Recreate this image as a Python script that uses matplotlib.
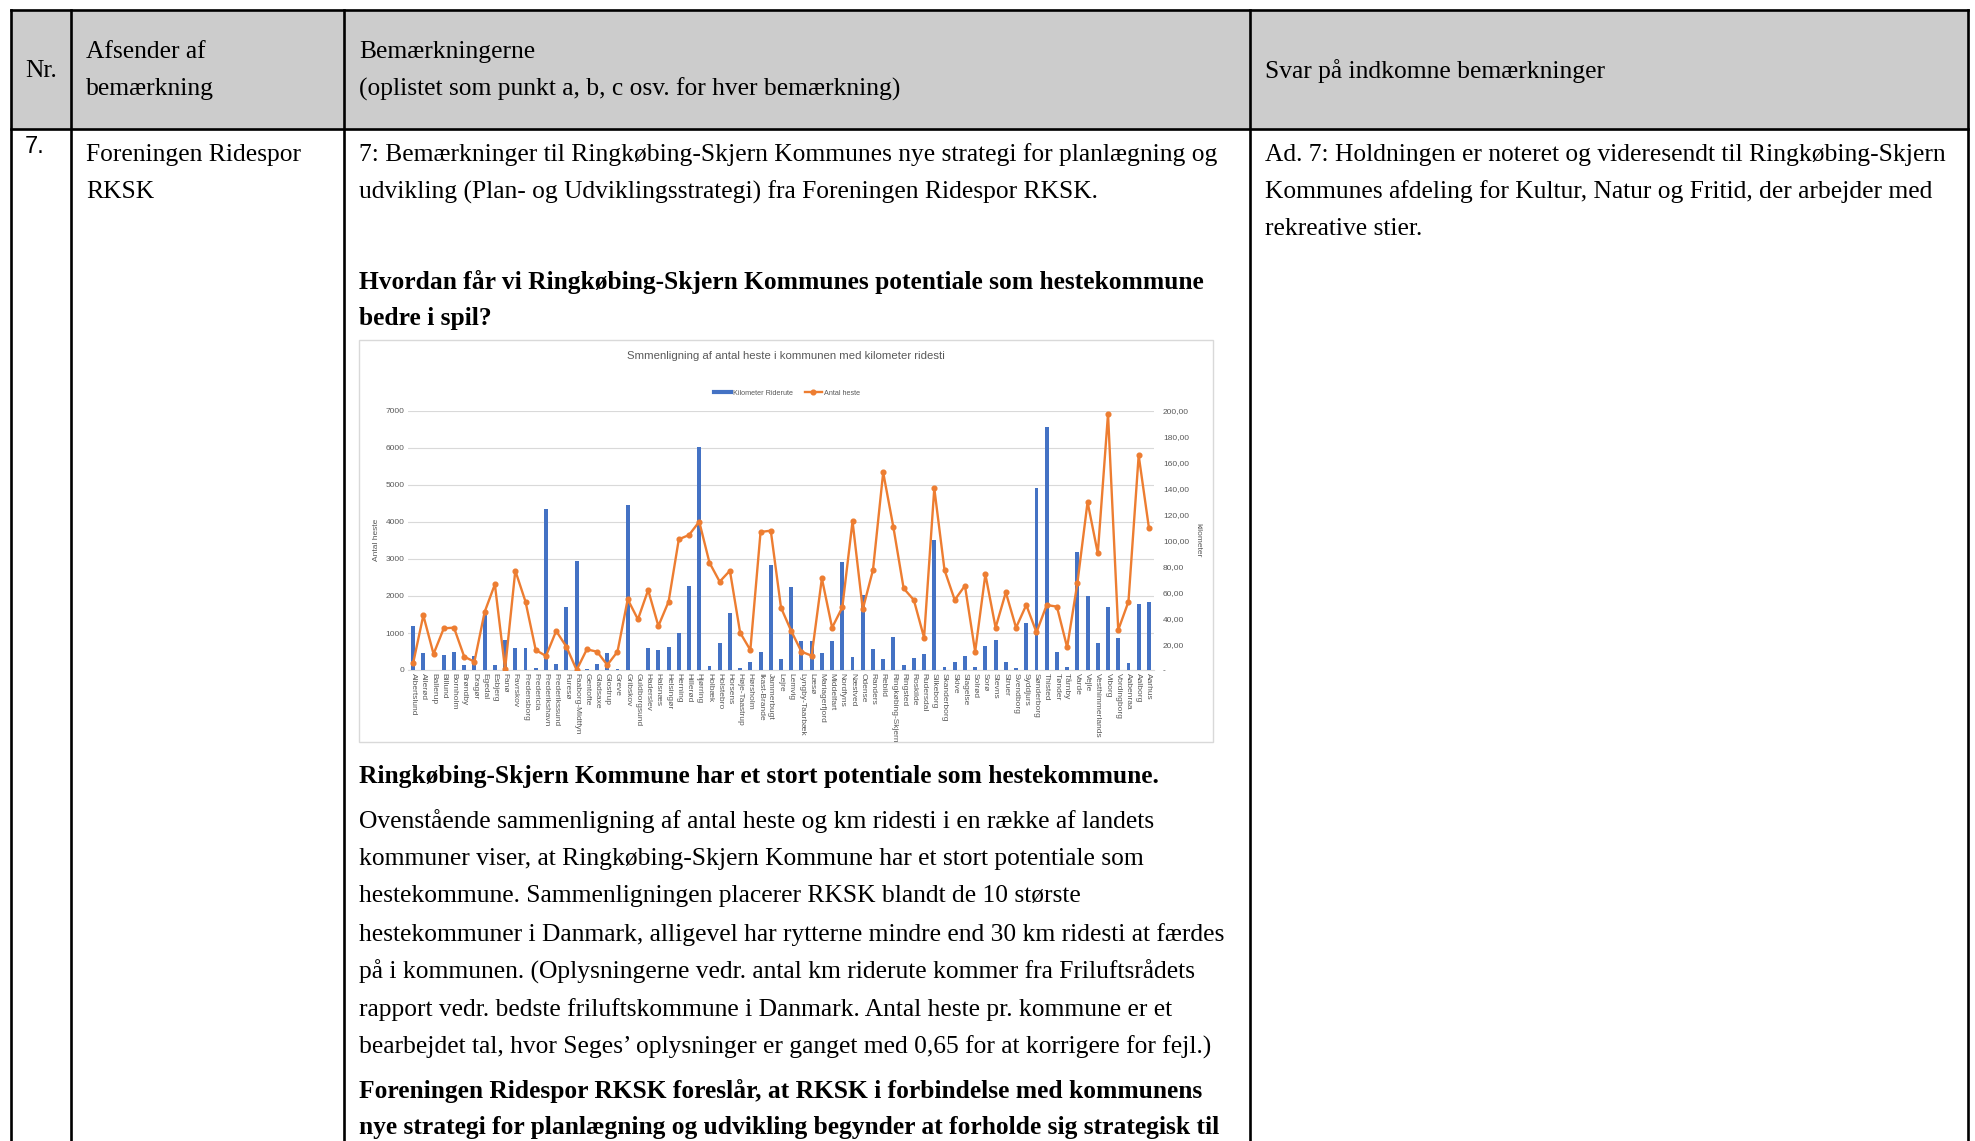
import matplotlib
matplotlib.use("Agg")
import matplotlib.pyplot as plt
from matplotlib.patches import Rectangle
from matplotlib.lines import Line2D
from matplotlib.ticker import FuncFormatter

# Data: kommuner, km riderute og antal heste

kommuner = ["Albertslund", "Allerød", "Ballerup", "Billund", "Bornholm", "Brøndby", "Dragør",
            "Egedal", "Esbjerg", "Fanø", "Favrskov", "Fredensborg", "Fredericia", "Frederikshavn",
            "Frederikssund", "Furesø", "Faaborg-Midtfyn", "Gentofte", "Gladsaxe", "Glostrup",
            "Greve", "Gribskov", "Guldborgsund", "Haderslev", "Halsnæs", "Helsingør", "Herning",
            "Hillerød", "Hjørring", "Holbæk", "Holstebro", "Horsens", "Høje-Taastrup", "Hørsholm",
            "Ikast-Brande", "Jammerbugt", "Lejre", "Lemvig", "Lyngby-Taarbæk", "Læsø",
            "Mariagerfjord", "Middelfart", "Nordfyns", "Næstved", "Odense", "Randers", "Rebild",
            "Ringkøbing-Skjern", "Ringsted", "Roskilde", "Rudersdal", "Silkeborg", "Skanderborg",
            "Skive", "Slagelse", "Solrød", "Sorø", "Stevns", "Struer", "Svendborg", "Syddjurs",
            "Sønderborg", "Thisted", "Tønder", "Tårnby", "Varde", "Vejle", "Vesthimmerlands",
            "Viborg", "Vordingborg", "Aabenraa", "Aalborg", "Aarhus"]

km_riderute = [34.2, 12.9, 0, 11.6, 13.6, 3.9, 10.8, 43.8, 3.9, 23.2, 16.7, 17.0, 1.3, 124.3,
               4.6, 48.9, 83.9, 0.8, 4.6, 13.4, 0.8, 127.7, 0.3, 16.7, 15.7, 18.0, 28.3, 64.9,
               172.5, 3.3, 21.1, 44.3, 1.5, 5.9, 14.2, 81.3, 8.5, 64.1, 22.1, 22.4, 12.9, 22.1,
               83.4, 10.3, 57.9, 16.5, 8.5, 25.2, 3.9, 9.0, 12.4, 100.1, 2.6, 5.9, 11.1, 2.6,
               18.5, 23.2, 5.9, 1.8, 36.0, 140.8, 187.4, 14.2, 2.6, 91.1, 57.1, 20.6, 48.9, 24.5,
               5.7, 50.7, 52.5]

antal_heste = [180, 1477, 432, 1126, 1144, 360, 225, 1568, 2315, 27, 2685, 1847, 540, 378,
               1054, 630, 0, 558, 495, 135, 495, 1910, 1369, 2162, 1189, 1847, 3532, 3649,
               4009, 2901, 2387, 2685, 1009, 540, 3730, 3766, 1685, 1054, 495, 387, 2477, 1144,
               1694, 4018, 1640, 2703, 5342, 3856, 2207, 1892, 874, 4910, 2703, 1892, 2279, 495,
               2586, 1144, 2099, 1144, 1757, 1018, 1757, 1712, 613, 2342, 4541, 3153, 6919, 1081,
               1847, 5802, 3847]

# Tekster i dokumentet

header_nr = "Nr."
header_afsender = ["Afsender af", "bemærkning"]
header_bem = ["Bemærkningerne", "(oplistet som punkt a, b, c osv. for hver bemærkning)"]
header_svar = "Svar på indkomne bemærkninger"

afsender = ["Foreningen Ridespor", "RKSK"]
intro = ["7: Bemærkninger til Ringkøbing-Skjern Kommunes nye strategi for planlægning og",
         "udvikling (Plan- og Udviklingsstrategi) fra Foreningen Ridespor RKSK."]
overskrift = ["Hvordan får vi Ringkøbing-Skjern Kommunes potentiale som hestekommune",
              "bedre i spil?"]
overskrift2 = "Ringkøbing-Skjern Kommune har et stort potentiale som hestekommune."
broedtekst = ["Ovenstående sammenligning af antal heste og km ridesti i en række af landets",
              "kommuner viser, at Ringkøbing-Skjern Kommune har et stort potentiale som",
              "hestekommune. Sammenligningen placerer RKSK blandt de 10 største",
              "hestekommuner i Danmark, alligevel har rytterne mindre end 30 km ridesti at færdes",
              "på i kommunen. (Oplysningerne vedr. antal km riderute kommer fra Friluftsrådets",
              "rapport vedr. bedste friluftskommune i Danmark. Antal heste pr. kommune er et",
              "bearbejdet tal, hvor Seges’ oplysninger er ganget med 0,65 for at korrigere for fejl.)"]
forslag = ["Foreningen Ridespor RKSK foreslår, at RKSK i forbindelse med kommunens",
           "nye strategi for planlægning og udvikling begynder at forholde sig strategisk til"]
svar = ["Ad. 7: Holdningen er noteret og videresendt til Ringkøbing-Skjern",
        "Kommunes afdeling for Kultur, Natur og Fritid, der arbejder med",
        "rekreative stier."]

W, H = 1975, 1141
fig = plt.figure(figsize=(W / 100, H / 100), dpi=100)

# Dokument-lag i pixelkoordinater
doc = fig.add_axes([0, 0, 1, 1])
doc.set_xlim(0, W)
doc.set_ylim(H, 0)
doc.axis("off")

serif = "Liberation Serif"
fs = 18.4

doc.add_patch(Rectangle((11, 10), 1957, 118.5, color="#cccccc", zorder=0))
lw = 1.9
doc.plot([11, 1968], [10, 10], color="black", lw=lw)
doc.plot([11, 1968], [128.5, 128.5], color="black", lw=lw)
for x in [11, 70.5, 344, 1249.5, 1968]:
    doc.plot([x, x], [10, H + 5], color="black", lw=lw)

doc.text(25, 71, header_nr, family=serif, fontsize=fs, va="center")
for i, t in enumerate(header_afsender):
    doc.text(86, 52 + 37.5 * i, t, family=serif, fontsize=fs, va="center")
for i, t in enumerate(header_bem):
    doc.text(359, 52 + 37.5 * i, t, family=serif, fontsize=fs, va="center")
doc.text(1265, 71, header_svar, family=serif, fontsize=fs, va="center")

doc.text(25, 147, "7.", family="Liberation Sans", fontsize=17, va="center")
for i, t in enumerate(afsender):
    doc.text(86, 155 + 37 * i, t, family=serif, fontsize=fs, va="center")
for i, t in enumerate(intro):
    doc.text(359, 155 + 37 * i, t, family=serif, fontsize=fs, va="center")
for i, t in enumerate(svar):
    doc.text(1265, 155 + 37 * i, t, family=serif, fontsize=fs, va="center")
for i, t in enumerate(overskrift):
    doc.text(359, 282 + 37 * i, t, family=serif, fontsize=fs, weight="bold", va="center")
doc.text(359, 777, overskrift2, family=serif, fontsize=fs, weight="bold", va="center")
for i, t in enumerate(broedtekst):
    doc.text(359, 821 + 37.7 * i, t, family=serif, fontsize=fs, va="center")
for i, t in enumerate(forslag):
    doc.text(359, 1091 + 36.5 * i, t, family=serif, fontsize=fs, weight="bold", va="center")

# Diagram-ramme
doc.add_patch(Rectangle((359, 340), 854, 402, facecolor="white", edgecolor="#d9d9d9", lw=1))
sans = "Liberation Sans"
grey = "#595959"
doc.text(786, 356, "Smmenligning af antal heste i kommunen med kilometer ridesti",
         family=sans, fontsize=8.2, color=grey, ha="center", va="center")

# Diagram
pos = [408 / W, 1 - 670 / H, 746 / W, 259 / H]
ax = fig.add_axes(pos)
ax2 = ax.twinx()
ax3 = fig.add_axes(pos, sharex=ax, sharey=ax)
ax.set_zorder(1)
ax2.set_zorder(2)
ax3.set_zorder(3)
for a in (ax, ax2, ax3):
    a.patch.set_visible(False)

x = list(range(len(kommuner)))
bars = ax2.bar(x, km_riderute, width=0.38, color="#4472C4")
ln, = ax3.plot(x, antal_heste, color="#ED7D31", lw=1.7, marker="o", markersize=3.4)
ax3.axis("off")

ax.set_xlim(-0.5, len(kommuner) - 0.5)
ax.set_ylim(0, 7000)
ax2.set_ylim(0, 200)
ax.set_yticks(range(0, 7001, 1000))
ax2.set_yticks(range(0, 201, 20))
ax.yaxis.grid(True, color="#d9d9d9", lw=0.8)
ax.set_axisbelow(True)
ax.set_xticks(x)
ax.set_xticklabels(kommuner, rotation=-90, family=sans, fontsize=5.4, color=grey)
ax2.yaxis.set_major_formatter(FuncFormatter(lambda v, p: "-" if v == 0 else f"{v:.2f}".replace(".", ",")))
ax.tick_params(axis="both", length=0, labelsize=6, labelcolor=grey)
ax.tick_params(axis="x", pad=2)
ax.tick_params(axis="y", pad=2.5)
ax2.tick_params(axis="y", length=0, pad=6.5, labelsize=6, labelcolor=grey)
for a in (ax, ax2):
    for s in a.spines.values():
        s.set_visible(False)
ax.spines["bottom"].set_visible(True)
ax.spines["bottom"].set_color("#d9d9d9")
for lab in ax.get_yticklabels() + ax2.get_yticklabels():
    lab.set_family(sans)

fig.text(376 / W, 1 - 540 / H, "Antal heste", family=sans, fontsize=6, color=grey,
         rotation=90, ha="center", va="center")
fig.text(1198 / W, 1 - 540 / H, "kilometer", family=sans, fontsize=6, color=grey,
         rotation=270, ha="center", va="center")

handles = [Line2D([], [], color="#4472C4", lw=3), ln]
fig.legend(handles, ["Kilometer Riderute", "Antal heste"], loc="center",
           bbox_to_anchor=(787 / W, 1 - 393 / H), ncol=2, frameon=False,
           prop={"family": sans, "size": 5.2}, labelcolor=grey, handlelength=2.4,
           columnspacing=1.6, handletextpad=0.3)

fig.savefig("out.png", dpi=100)
